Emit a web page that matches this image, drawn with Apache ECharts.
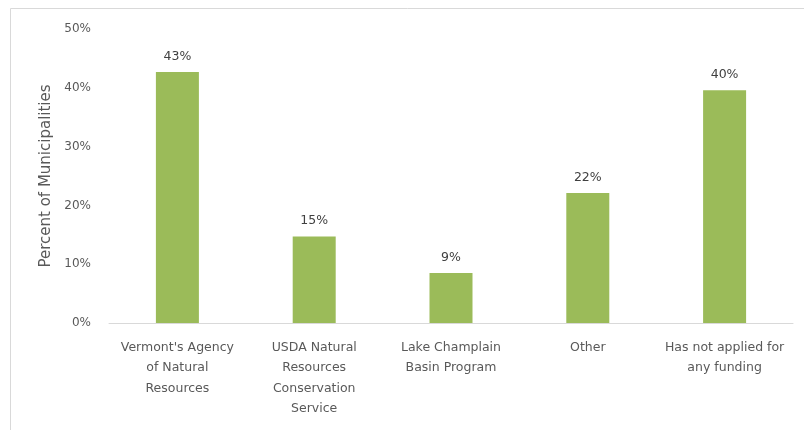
<!DOCTYPE html>
<html><head><meta charset="utf-8">
<script src="https://cdn.jsdelivr.net/npm/echarts@6/dist/echarts.min.js"></script>
<style>html,body{margin:0;padding:0;background:#fff}#c{width:804px;height:430px}</style>
</head><body><div id="c"></div>
<script>
const categories = ["Vermont's Agency\nof Natural\nResources", "USDA Natural\nResources\nConservation\nService", "Lake Champlain\nBasin Program", "Other", "Has not applied for\nany funding"];
const values = [42.7, 14.7, 8.5, 22.1, 39.6];
const yTicks = [0, 10, 20, 30, 40, 50];
const yName = "Percent of Municipalities";

const chart = echarts.init(document.getElementById('c'));
const font = "'DejaVu Sans', 'Liberation Sans', sans-serif";
chart.setOption({
  animation: false,
  graphic: [{type:'rect', shape:{x:10.5,y:8.5,width:820,height:440}, style:{fill:'none', stroke:'#d9d9d9', lineWidth:1}}],
  grid: {left:109, right:11, top:29, bottom:107},
  xAxis: {type:'category', data: categories,
    axisLine:{lineStyle:{color:'#d9d9d9'}}, axisTick:{show:false},
    axisLabel:{color:'#595959', fontSize:12.5, fontFamily:font, lineHeight:20.5, margin:14, interval:0}},
  yAxis: {type:'value', min:yTicks[0], max:yTicks[yTicks.length-1], interval:10,
    name: yName, nameLocation:'middle', nameGap:55, nameTextStyle:{color:'#595959', fontSize:15, fontFamily:font},
    axisLine:{show:false}, axisTick:{show:false}, splitLine:{show:false},
    axisLabel:{color:'#595959', fontSize:12, fontFamily:font, margin:18, formatter: v => v + '%'}},
  series: [{type:'bar', data: values, barWidth:43, itemStyle:{color:'#9BBB59'},
    label:{show:true, position:'top', distance:9, color:'#404040', fontSize:12.5, fontFamily:font, formatter: p => Math.round(p.value) + '%'}}]
});
</script></body></html>
